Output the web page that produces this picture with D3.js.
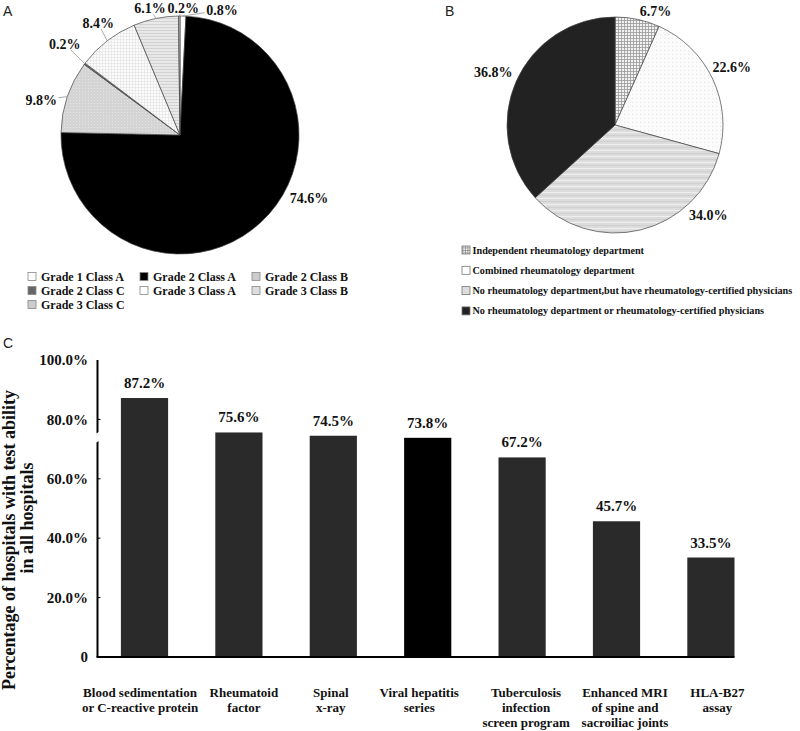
<!DOCTYPE html>
<html><head><meta charset="utf-8">
<script src="https://cdn.jsdelivr.net/npm/d3@7"></script>
<style>
body{margin:0;background:#fff}
svg{display:block}
text{font-family:"Liberation Serif","Times New Roman",serif;font-weight:bold;fill:#111}
.panel{font-family:"Liberation Sans",Arial,sans-serif;font-weight:normal;fill:#222}
</style>
</head><body>
<svg id="chart" width="800" height="731"></svg>
<script>
// ---------- DATA ----------
const gradeCategories = ["Grade 1 Class A","Grade 2 Class A","Grade 2 Class B","Grade 2 Class C","Grade 3 Class A","Grade 3 Class B","Grade 3 Class C"];
const gradeValues = [0.8, 74.6, 9.8, 0.2, 8.4, 6.1, 0.2];

const deptCategories = ["Independent rheumatology department","Combined rheumatology department","No rheumatology department,but have rheumatology-certified physicians","No rheumatology department or rheumatology-certified physicians"];
const deptValues = [6.7, 22.6, 34.0, 36.8];

const testCategories = [
  ["Blood sedimentation","or C-reactive protein"],
  ["Rheumatoid","factor"],
  ["Spinal","x-ray"],
  ["Viral hepatitis","series"],
  ["Tuberculosis","infection","screen program"],
  ["Enhanced MRI","of spine and","sacroiliac joints"],
  ["HLA-B27","assay"]
];
const testValues = [87.2, 75.6, 74.5, 73.8, 67.2, 45.7, 33.5];
const yTicks = [0, 20, 40, 60, 80, 100];
const yTickLabels = ["0","20.0%","40.0%","60.0%","80.0%","100.0%"];
const yTitle = ["Percentage of hospitals with test ability","in all hospitals"];

// ---------- STYLE / LAYOUT ----------
const gradeFills = ["#ffffff","#000000","url(#pDot)","#666666","url(#pFineGrid)","url(#pHLines)","#cccccc"];
const gradeLegendFills = ["#ffffff","#000000","#cccccc","#666666","#ffffff","#dddddd","#cccccc"];
const gradeLabelNudge = [[39,-6],[48,-24],[-26,3],[-20,-20],[-9,-18],[-6,-10],[4,-8]];
const gradeLeader = [true,false,true,true,true,true,true];

const deptFills = ["url(#pGrid)","url(#pSparse)","url(#pHLines2)","#222222"];
const deptLegendFills = ["url(#pGridSmall)","#ffffff","#dddddd","#222222"];
const deptLabelNudge = [[18,-8],[19,-12],[68,-15],[-23,-9]];
const catLabelShift = [-4.5, 5, -2.5, -8.5, 4, 8.5, 6.5];

const svg = d3.select("#chart");
const defs = svg.append("defs");

function pat(id, w, h, build){
  const p = defs.append("pattern").attr("id",id).attr("patternUnits","userSpaceOnUse").attr("width",w).attr("height",h);
  build(p);
}
pat("pDot",3,3,p=>{p.append("rect").attr("width",3).attr("height",3).attr("fill","#d4d4d4");
  p.append("rect").attr("x",1).attr("y",1).attr("width",1).attr("height",1).attr("fill","#e4e4e4");});
pat("pFineGrid",3,3,p=>{p.append("rect").attr("width",3).attr("height",3).attr("fill","#fbfbfb");
  p.append("rect").attr("width",3).attr("height",0.5).attr("fill","#e0e0e0");
  p.append("rect").attr("width",0.5).attr("height",3).attr("fill","#e0e0e0");});
pat("pHLines",3,3,p=>{p.append("rect").attr("width",3).attr("height",3).attr("fill","#e8e8e8");
  p.append("rect").attr("width",3).attr("height",1).attr("fill","#d2d2d2");});
pat("pGrid",3,3,p=>{p.append("rect").attr("width",3).attr("height",3).attr("fill","#f2f2f2");
  p.append("rect").attr("width",3).attr("height",0.8).attr("fill","#9a9a9a");
  p.append("rect").attr("width",0.8).attr("height",3).attr("fill","#9a9a9a");});
pat("pGridSmall",2.5,2.5,p=>{p.append("rect").attr("width",2.5).attr("height",2.5).attr("fill","#eeeeee");
  p.append("rect").attr("width",2.5).attr("height",0.7).attr("fill","#888");
  p.append("rect").attr("width",0.7).attr("height",2.5).attr("fill","#888");});
pat("pSparse",4,4,p=>{p.append("rect").attr("width",4).attr("height",4).attr("fill","#fbfbfb");
  p.append("rect").attr("x",1).attr("y",1).attr("width",1).attr("height",1).attr("fill","#e4e4e4");});
pat("pHLines2",4,6,p=>{p.append("rect").attr("width",4).attr("height",6).attr("fill","#dcdcdc");
  p.append("rect").attr("y",1).attr("width",4).attr("height",1).attr("fill","#efefef");
  p.append("rect").attr("y",4).attr("width",4).attr("height",1).attr("fill","#cfcfcf");});

// panel letters
svg.append("text").attr("class","panel").attr("x",3).attr("y",16).attr("font-size",14).text("A");
svg.append("text").attr("class","panel").attr("x",445).attr("y",16).attr("font-size",14).text("B");
svg.append("text").attr("class","panel").attr("x",3).attr("y",348).attr("font-size",14).text("C");

// ---------- PIE helper ----------
function drawPie(values, fills, cx, cy, r, nudges, leaders, fontSize){
  const g = svg.append("g").attr("transform",`translate(${cx},${cy})`);
  const arcs = d3.pie().sort(null).value(d=>d)(values);
  const arc = d3.arc().innerRadius(0).outerRadius(r);
  g.selectAll("path.slice").data(arcs).join("path").attr("class","slice")
    .attr("d",arc).attr("fill",(d,i)=>fills[i]).attr("stroke","#444").attr("stroke-width",0.7);
  arcs.forEach((d,i)=>{
    const a = (d.startAngle+d.endAngle)/2;
    const px = r*Math.sin(a), py = -r*Math.cos(a);
    const lx = px + nudges[i][0], ly = py + nudges[i][1];
    const t = g.append("text").attr("x",lx).attr("y",ly).attr("dy","0.35em")
      .attr("text-anchor","middle").attr("font-size",fontSize).text(d3.format(".1f")(values[i])+"%");
    if(leaders && leaders[i]){
      const bb = t.node().getBBox();
      const hw = bb.width/2+1.5, hh = 6;
      const dx = px-lx, dy = py-ly;
      const tt = Math.min(dx===0?Infinity:hw/Math.abs(dx), dy===0?Infinity:hh/Math.abs(dy));
      if(tt<1){
        g.insert("line","text").attr("x1",px).attr("y1",py).attr("x2",lx+dx*tt).attr("y2",ly+dy*tt)
          .attr("stroke","#aaa").attr("stroke-width",1);
      }
    }
  });
}

drawPie(gradeValues, gradeFills, 180, 135, 119, gradeLabelNudge, gradeLeader, 14);
drawPie(deptValues, deptFills, 615, 125, 108, deptLabelNudge, null, 14);

// legend A
const legA = svg.append("g");
gradeCategories.forEach((c,i)=>{
  const col = i%3, row = Math.floor(i/3);
  const x = 28 + col*112, y = 277 + row*14;
  legA.append("rect").attr("x",x).attr("y",y-4.5).attr("width",8).attr("height",8)
    .attr("fill",gradeLegendFills[i]).attr("stroke","#888").attr("stroke-width",0.8);
  legA.append("text").attr("x",x+13).attr("y",y).attr("dy","0.35em").attr("font-size",12).text(c);
});

// legend B
const legB = svg.append("g");
deptCategories.forEach((c,i)=>{
  const x = 462, y = 250 + i*20.3;
  legB.append("rect").attr("x",x).attr("y",y-4).attr("width",8).attr("height",8)
    .attr("fill",deptLegendFills[i]).attr("stroke","#777").attr("stroke-width",0.8);
  legB.append("text").attr("x",x+10.5).attr("y",y).attr("dy","0.35em").attr("font-size",10.2).text(c);
});

// ---------- BAR CHART ----------
const x = d3.scaleBand().domain(d3.range(testValues.length)).range([97.3, 758.1]).paddingInner(0.5).paddingOuter(0.25);
const y = d3.scaleLinear().domain([0,100]).range([657,360]);
const bars = svg.append("g");
bars.selectAll("rect").data(testValues).join("rect")
  .attr("x",(d,i)=>x(i)).attr("width",x.bandwidth())
  .attr("y",d=>y(d)).attr("height",d=>y(0)-y(d))
  .attr("fill",(d,i)=>i===3?"#000":"#2a2a2a");
bars.selectAll("text.val").data(testValues).join("text").attr("class","val")
  .attr("x",(d,i)=>x(i)+x.bandwidth()/2).attr("y",d=>y(d)-10)
  .attr("text-anchor","middle").attr("font-size",15).text(d=>d3.format(".1f")(d)+"%");

// y axis
const axX = 97.5;
svg.append("line").attr("x1",axX).attr("x2",axX).attr("y1",y(100)).attr("y2",y(0)).attr("stroke","#000").attr("stroke-width",2);
const axisBreak = 74;
const by = y(axisBreak);
svg.append("polygon").attr("points",`${axX-3},${by-3} ${axX+3},${by-6} ${axX+3},${by+3} ${axX-3},${by+6}`).attr("fill","#fff");
svg.append("g").selectAll("line").data(yTicks.slice(1,-1)).join("line")
  .attr("x1",axX).attr("x2",axX+3).attr("y1",d=>y(d)).attr("y2",d=>y(d)).attr("stroke","#000").attr("stroke-width",1);
svg.append("g").selectAll("text").data(yTicks).join("text")
  .attr("x",88).attr("y",d=>y(d)).attr("dy","0.35em").attr("text-anchor","end").attr("font-size",15)
  .text((d,i)=>yTickLabels[i]);
// x axis
svg.append("line").attr("x1",axX-1).attr("x2",x(testValues.length-1)+x.bandwidth()).attr("y1",y(0)).attr("y2",y(0))
  .attr("stroke","#000").attr("stroke-width",2);
// category labels
testCategories.forEach((lines,i)=>{
  const t = svg.append("text").attr("text-anchor","middle").attr("font-size",13);
  const cx = x(i)+x.bandwidth()/2+catLabelShift[i];
  lines.forEach((l,j)=>t.append("tspan").attr("x",cx).attr("y",697+j*15).text(l));
});
// y title
svg.append("text").attr("transform","translate(15,540) rotate(-90)").attr("text-anchor","middle").attr("font-size",18).text(yTitle[0]);
svg.append("text").attr("transform","translate(33,518) rotate(-90)").attr("text-anchor","middle").attr("font-size",18).text(yTitle[1]);
</script>
</body></html>
